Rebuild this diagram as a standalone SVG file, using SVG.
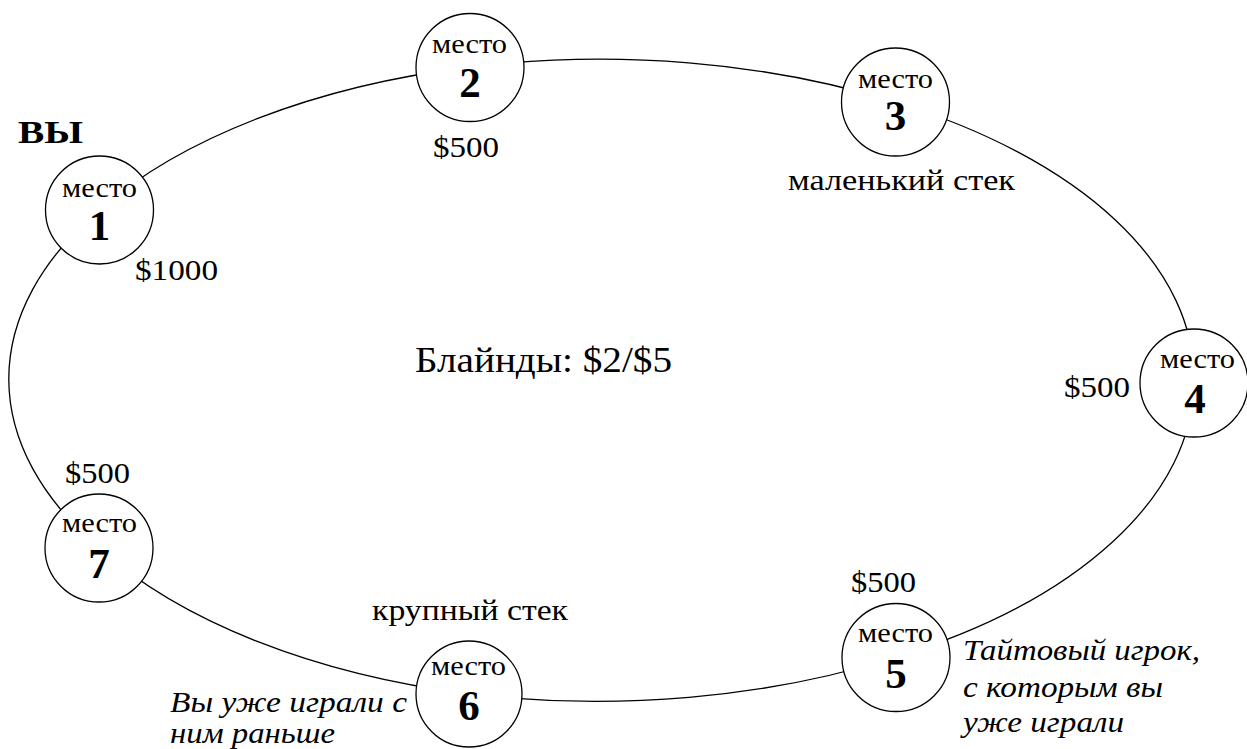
<svg xmlns="http://www.w3.org/2000/svg" width="1247" height="749" viewBox="0 0 1247 749">
<style>
.seat{fill:#fff;stroke:#000;stroke-width:1.3}
.lbl{font-family:"Liberation Serif","Times New Roman",serif;font-size:28px;fill:#000}
.num{font-family:"Liberation Serif","Times New Roman",serif;font-size:43px;font-weight:bold;text-anchor:middle;fill:#000}
.t{font-family:"Liberation Serif","Times New Roman",serif;font-size:30px;fill:#000}
.it{font-family:"Liberation Serif","Times New Roman",serif;font-size:29px;font-style:italic;fill:#000}
.con{fill:none;stroke:#000;stroke-width:1.3}
</style>
<rect width="1247" height="749" fill="#fff"/>
<g id="connectors">
<path class="con" d="M99 210 A590 318 0 0 1 470 67"/>
<path class="con" d="M470 67 A590 318 0 0 1 895 102"/>
<path class="con" d="M895 102 A590 318 0 0 1 1194 383"/>
<path class="con" d="M1194 383 A590 318 0 0 1 896 657"/>
<path class="con" d="M896 657 A590 318 0 0 1 469 694"/>
<path class="con" d="M469 694 A590 318 0 0 1 99 548"/>
<path class="con" d="M99 548 A590 318 0 0 1 99 210"/>
</g>
<g id="seat1">
<circle class="seat" cx="99.5" cy="210" r="54"/>
<text class="lbl" x="62" y="197" textLength="75" lengthAdjust="spacingAndGlyphs">место</text>
<text class="num" x="99.5" y="240">1</text>
</g>
<g id="seat2">
<circle class="seat" cx="470" cy="67.5" r="54"/>
<text class="lbl" x="432" y="53" textLength="75" lengthAdjust="spacingAndGlyphs">место</text>
<text class="num" x="470" y="97">2</text>
</g>
<g id="seat3">
<circle class="seat" cx="895.5" cy="102" r="54"/>
<text class="lbl" x="858" y="88" textLength="75" lengthAdjust="spacingAndGlyphs">место</text>
<text class="num" x="895.5" y="130">3</text>
</g>
<g id="seat4">
<circle class="seat" cx="1194" cy="383" r="54"/>
<text class="lbl" x="1160" y="368" textLength="75" lengthAdjust="spacingAndGlyphs">место</text>
<text class="num" x="1195" y="413">4</text>
</g>
<g id="seat5">
<circle class="seat" cx="896" cy="657.5" r="54"/>
<text class="lbl" x="858" y="642" textLength="75" lengthAdjust="spacingAndGlyphs">место</text>
<text class="num" x="896" y="688">5</text>
</g>
<g id="seat6">
<circle class="seat" cx="469" cy="694" r="53"/>
<text class="lbl" x="431" y="675" textLength="75" lengthAdjust="spacingAndGlyphs">место</text>
<text class="num" x="469" y="720">6</text>
</g>
<g id="seat7">
<circle class="seat" cx="99" cy="548" r="54"/>
<text class="lbl" x="62" y="532" textLength="75" lengthAdjust="spacingAndGlyphs">место</text>
<text class="num" x="99" y="578">7</text>
</g>
<g id="labels">
<text class="t" x="18" y="143" style="font-weight:bold;font-size:31px" textLength="65" lengthAdjust="spacingAndGlyphs">ВЫ</text>
<text class="t" x="135" y="280" textLength="83" lengthAdjust="spacingAndGlyphs">$1000</text>
<text class="t" x="433" y="157" textLength="66" lengthAdjust="spacingAndGlyphs">$500</text>
<text class="t" x="788" y="190" textLength="227" lengthAdjust="spacingAndGlyphs">маленький стек</text>
<text class="t" x="1064" y="397" textLength="66" lengthAdjust="spacingAndGlyphs">$500</text>
<text class="t" x="851" y="592" textLength="65" lengthAdjust="spacingAndGlyphs">$500</text>
<text class="t" x="65" y="483" textLength="65" lengthAdjust="spacingAndGlyphs">$500</text>
<text class="t" x="372" y="620" textLength="196" lengthAdjust="spacingAndGlyphs">крупный стек</text>
<text class="t" x="415" y="372" style="font-size:35px" textLength="257" lengthAdjust="spacingAndGlyphs">Блайнды: $2/$5</text>
<text class="it" x="963" y="660" textLength="237" lengthAdjust="spacingAndGlyphs">Тайтовый игрок,</text>
<text class="it" x="963" y="697" textLength="200" lengthAdjust="spacingAndGlyphs">с которым вы</text>
<text class="it" x="963" y="732" textLength="161" lengthAdjust="spacingAndGlyphs">уже играли</text>
<text class="it" x="170" y="712" textLength="237" lengthAdjust="spacingAndGlyphs">Вы уже играли с</text>
<text class="it" x="170" y="743" textLength="165" lengthAdjust="spacingAndGlyphs">ним раньше</text>
</g>
</svg>
